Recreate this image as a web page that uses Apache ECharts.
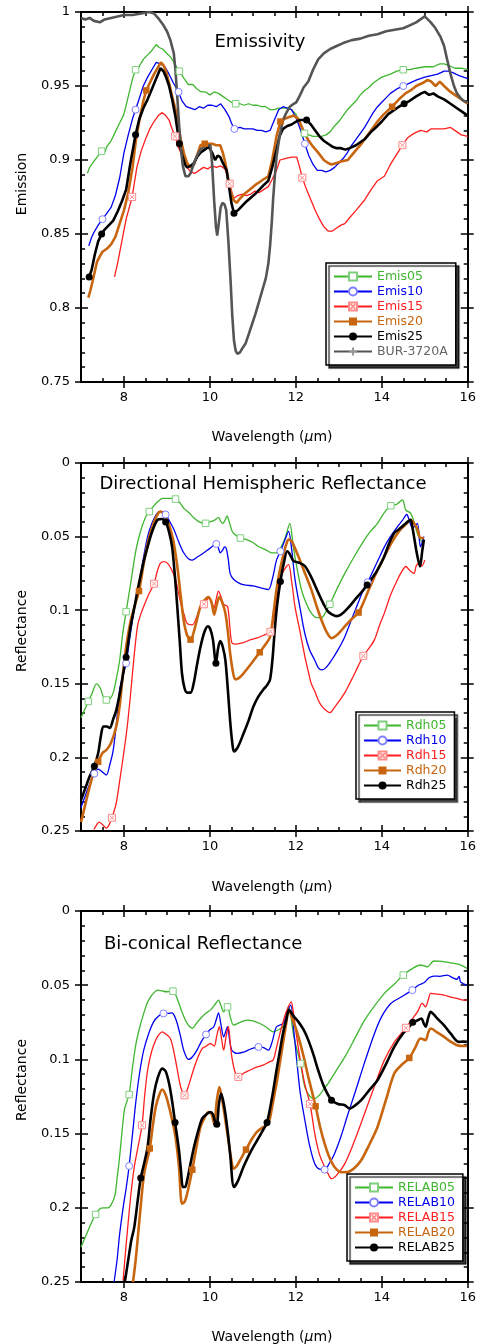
<!DOCTYPE html>
<html>
<head>
<meta charset="utf-8">
<script src="https://cdn.jsdelivr.net/npm/echarts@6/dist/echarts.min.js"></script>
<style>
  html, body { margin: 0; padding: 0; background: #fff; }
  #chart { width: 479px; height: 1344px; }
</style>
</head>
<body>
<div id="chart"></div>
<script>
// ---- Wavelength ticks (micrometres) ----
const wavelengthTicks = [8, 10, 12, 14, 16];

// ---- Emissivity spectra: [wavelength, emission] ----
const emis05 = [[7.15,0.891],[7.2,0.895],[7.3,0.899],[7.4,0.903],[7.48,0.906],[7.55,0.905],[7.6,0.909],[7.7,0.913],[7.8,0.919],[7.9,0.925],[8.0,0.931],[8.1,0.943],[8.2,0.955],[8.27,0.961],[8.35,0.963],[8.45,0.968],[8.55,0.971],[8.65,0.974],[8.75,0.978],[8.82,0.976],[8.9,0.975],[9.0,0.972],[9.1,0.969],[9.2,0.964],[9.29,0.960],[9.4,0.955],[9.5,0.951],[9.6,0.951],[9.7,0.948],[9.8,0.946],[9.9,0.946],[10.0,0.944],[10.1,0.946],[10.2,0.945],[10.3,0.943],[10.4,0.941],[10.5,0.939],[10.6,0.938],[10.7,0.938],[10.8,0.937],[10.9,0.938],[11.0,0.937],[11.1,0.937],[11.2,0.936],[11.3,0.936],[11.4,0.934],[11.5,0.934],[11.6,0.935],[11.7,0.935],[11.8,0.935],[11.9,0.934],[12.0,0.931],[12.1,0.924],[12.2,0.918],[12.3,0.917],[12.4,0.916],[12.5,0.916],[12.6,0.916],[12.7,0.917],[12.8,0.919],[12.9,0.923],[13.0,0.926],[13.1,0.930],[13.2,0.934],[13.3,0.937],[13.4,0.940],[13.5,0.944],[13.6,0.947],[13.7,0.949],[13.8,0.952],[13.9,0.954],[14.0,0.956],[14.2,0.958],[14.35,0.960],[14.5,0.961],[14.65,0.961],[14.8,0.962],[15.0,0.963],[15.2,0.963],[15.35,0.965],[15.45,0.965],[15.55,0.964],[15.7,0.962],[15.85,0.962],[16.0,0.961]];
const emis10 = [[7.18,0.842],[7.25,0.848],[7.3,0.851],[7.4,0.856],[7.5,0.860],[7.6,0.864],[7.7,0.868],[7.8,0.876],[7.9,0.888],[8.0,0.905],[8.1,0.917],[8.2,0.928],[8.27,0.934],[8.35,0.941],[8.45,0.950],[8.55,0.956],[8.65,0.961],[8.75,0.966],[8.85,0.965],[8.95,0.963],[9.05,0.958],[9.15,0.952],[9.27,0.946],[9.35,0.940],[9.45,0.936],[9.55,0.935],[9.65,0.934],[9.75,0.936],[9.85,0.935],[9.95,0.937],[10.05,0.937],[10.15,0.936],[10.25,0.938],[10.35,0.934],[10.45,0.929],[10.5,0.925],[10.57,0.921],[10.7,0.922],[10.8,0.921],[10.9,0.921],[11.0,0.921],[11.1,0.920],[11.2,0.920],[11.3,0.919],[11.4,0.920],[11.5,0.927],[11.6,0.934],[11.7,0.936],[11.8,0.935],[11.9,0.934],[12.0,0.929],[12.1,0.921],[12.21,0.911],[12.3,0.903],[12.4,0.897],[12.5,0.893],[12.6,0.893],[12.7,0.892],[12.8,0.893],[12.9,0.895],[13.0,0.898],[13.1,0.901],[13.2,0.905],[13.3,0.910],[13.4,0.914],[13.5,0.918],[13.6,0.922],[13.7,0.927],[13.8,0.932],[13.9,0.936],[14.0,0.939],[14.1,0.942],[14.2,0.945],[14.35,0.948],[14.5,0.950],[14.65,0.952],[14.8,0.954],[15.0,0.956],[15.15,0.957],[15.3,0.958],[15.45,0.960],[15.55,0.960],[15.65,0.959],[15.8,0.957],[16.0,0.955]];
const emis15 = [[7.78,0.821],[7.85,0.830],[7.95,0.845],[8.05,0.860],[8.19,0.875],[8.3,0.895],[8.4,0.906],[8.5,0.914],[8.6,0.921],[8.7,0.926],[8.8,0.930],[8.89,0.932],[8.97,0.930],[9.05,0.927],[9.12,0.921],[9.19,0.916],[9.26,0.909],[9.32,0.905],[9.4,0.899],[9.47,0.895],[9.55,0.892],[9.65,0.891],[9.75,0.893],[9.85,0.895],[9.95,0.894],[10.05,0.896],[10.15,0.895],[10.25,0.896],[10.35,0.894],[10.46,0.884],[10.55,0.874],[10.65,0.876],[10.75,0.877],[10.85,0.876],[10.95,0.877],[11.05,0.879],[11.15,0.878],[11.25,0.880],[11.36,0.882],[11.45,0.887],[11.55,0.893],[11.63,0.900],[11.75,0.901],[11.9,0.902],[12.02,0.902],[12.08,0.896],[12.15,0.888],[12.25,0.880],[12.35,0.873],[12.45,0.866],[12.55,0.860],[12.65,0.855],[12.75,0.852],[12.85,0.852],[12.95,0.854],[13.05,0.856],[13.14,0.857],[13.25,0.861],[13.4,0.866],[13.6,0.873],[13.75,0.880],[13.9,0.886],[14.06,0.889],[14.2,0.897],[14.35,0.904],[14.48,0.910],[14.6,0.915],[14.75,0.918],[14.9,0.920],[15.05,0.919],[15.14,0.921],[15.3,0.921],[15.45,0.921],[15.6,0.922],[15.7,0.920],[15.85,0.917],[16.0,0.916]];
const emis20 = [[7.17,0.807],[7.22,0.812],[7.3,0.822],[7.37,0.831],[7.44,0.835],[7.5,0.838],[7.6,0.840],[7.7,0.843],[7.8,0.848],[7.9,0.857],[8.0,0.866],[8.1,0.878],[8.2,0.895],[8.28,0.914],[8.38,0.930],[8.46,0.941],[8.52,0.947],[8.6,0.952],[8.7,0.958],[8.8,0.963],[8.86,0.966],[8.92,0.964],[8.98,0.960],[9.05,0.952],[9.12,0.943],[9.2,0.934],[9.26,0.924],[9.32,0.914],[9.4,0.904],[9.47,0.898],[9.55,0.895],[9.63,0.897],[9.7,0.903],[9.78,0.910],[9.88,0.911],[9.97,0.911],[10.05,0.911],[10.15,0.910],[10.24,0.910],[10.3,0.905],[10.36,0.898],[10.42,0.888],[10.47,0.880],[10.55,0.873],[10.62,0.871],[10.7,0.874],[10.8,0.877],[10.93,0.880],[11.05,0.883],[11.15,0.885],[11.25,0.887],[11.36,0.889],[11.45,0.900],[11.55,0.916],[11.64,0.926],[11.75,0.928],[11.85,0.929],[11.95,0.930],[12.05,0.928],[12.13,0.923],[12.2,0.918],[12.3,0.913],[12.4,0.909],[12.52,0.905],[12.65,0.900],[12.75,0.898],[12.83,0.897],[12.95,0.898],[13.05,0.899],[13.21,0.900],[13.35,0.905],[13.5,0.910],[13.6,0.914],[13.75,0.920],[13.9,0.926],[14.05,0.931],[14.24,0.936],[14.4,0.941],[14.55,0.945],[14.67,0.947],[14.8,0.950],[14.95,0.952],[15.06,0.954],[15.15,0.953],[15.25,0.950],[15.35,0.953],[15.45,0.950],[15.6,0.946],[15.75,0.943],[15.9,0.940],[16.0,0.938]];
const emis25 = [[7.19,0.821],[7.25,0.826],[7.32,0.836],[7.4,0.845],[7.48,0.850],[7.55,0.853],[7.65,0.856],[7.75,0.859],[7.85,0.865],[7.95,0.872],[8.05,0.880],[8.15,0.898],[8.27,0.917],[8.35,0.927],[8.45,0.935],[8.55,0.941],[8.65,0.948],[8.75,0.955],[8.85,0.962],[8.92,0.960],[8.98,0.956],[9.05,0.950],[9.12,0.941],[9.2,0.929],[9.29,0.911],[9.36,0.903],[9.42,0.897],[9.47,0.895],[9.55,0.896],[9.63,0.898],[9.7,0.902],[9.78,0.905],[9.88,0.907],[9.97,0.909],[10.05,0.905],[10.12,0.900],[10.18,0.903],[10.24,0.902],[10.3,0.898],[10.39,0.893],[10.45,0.881],[10.5,0.871],[10.56,0.864],[10.65,0.866],[10.75,0.869],[10.85,0.872],[10.93,0.874],[11.05,0.877],[11.15,0.880],[11.25,0.883],[11.36,0.886],[11.45,0.895],[11.55,0.907],[11.62,0.916],[11.7,0.921],[11.8,0.923],[11.9,0.924],[12.01,0.926],[12.1,0.927],[12.25,0.927],[12.35,0.924],[12.45,0.920],[12.55,0.916],[12.65,0.913],[12.75,0.911],[12.85,0.909],[12.95,0.908],[13.05,0.908],[13.15,0.907],[13.25,0.908],[13.4,0.910],[13.5,0.912],[13.6,0.914],[13.75,0.919],[13.9,0.923],[14.0,0.926],[14.15,0.931],[14.3,0.934],[14.4,0.936],[14.52,0.938],[14.65,0.940],[14.8,0.943],[14.92,0.945],[15.0,0.946],[15.1,0.944],[15.2,0.945],[15.3,0.943],[15.45,0.941],[15.6,0.938],[15.75,0.935],[15.9,0.932],[16.0,0.930]];
const bur3720a = [[7.0,0.996],[7.1,0.995],[7.2,0.996],[7.3,0.994],[7.44,0.993],[7.55,0.995],[7.7,0.996],[7.85,0.997],[8.0,0.998],[8.2,0.998],[8.4,0.999],[8.59,1.0],[8.7,0.999],[8.82,0.995],[8.92,0.991],[9.0,0.987],[9.08,0.981],[9.16,0.972],[9.2,0.960],[9.24,0.943],[9.28,0.925],[9.32,0.909],[9.37,0.896],[9.43,0.889],[9.5,0.889],[9.55,0.891],[9.62,0.897],[9.7,0.903],[9.78,0.907],[9.86,0.909],[9.95,0.910],[10.01,0.910],[10.05,0.898],[10.1,0.872],[10.14,0.855],[10.17,0.849],[10.21,0.858],[10.25,0.868],[10.29,0.871],[10.34,0.870],[10.38,0.866],[10.43,0.845],[10.48,0.819],[10.52,0.795],[10.56,0.778],[10.6,0.771],[10.64,0.769],[10.7,0.770],[10.76,0.773],[10.83,0.776],[10.9,0.782],[10.98,0.789],[11.06,0.796],[11.15,0.805],[11.23,0.813],[11.3,0.820],[11.36,0.830],[11.4,0.842],[11.44,0.858],[11.47,0.873],[11.51,0.889],[11.55,0.902],[11.62,0.916],[11.7,0.927],[11.78,0.932],[11.86,0.936],[11.95,0.938],[12.01,0.939],[12.1,0.944],[12.18,0.949],[12.29,0.953],[12.4,0.961],[12.52,0.968],[12.65,0.972],[12.8,0.975],[12.95,0.977],[13.1,0.979],[13.3,0.981],[13.5,0.982],[13.7,0.984],[13.9,0.985],[14.1,0.987],[14.3,0.988],[14.5,0.989],[14.65,0.991],[14.8,0.993],[14.9,0.995],[15.0,0.997],[15.07,0.995],[15.14,0.993],[15.25,0.989],[15.37,0.983],[15.45,0.977],[15.52,0.968],[15.6,0.958],[15.68,0.950],[15.75,0.945],[15.83,0.942],[15.9,0.940],[16.0,0.939]];

// ---- Directional hemispheric reflectance: [wavelength, reflectance] ----
const rdh05 = [[7.0,0.173],[7.08,0.168],[7.17,0.162],[7.25,0.157],[7.36,0.150],[7.45,0.153],[7.52,0.159],[7.59,0.161],[7.68,0.160],[7.75,0.156],[7.82,0.147],[7.9,0.134],[7.97,0.116],[8.05,0.101],[8.15,0.083],[8.28,0.059],[8.4,0.045],[8.5,0.037],[8.59,0.033],[8.7,0.029],[8.8,0.026],[8.9,0.024],[9.0,0.024],[9.1,0.024],[9.2,0.0245],[9.3,0.027],[9.4,0.031],[9.52,0.034],[9.62,0.037],[9.75,0.040],[9.9,0.041],[10.0,0.040],[10.1,0.039],[10.2,0.037],[10.26,0.040],[10.3,0.041],[10.35,0.039],[10.4,0.036],[10.45,0.040],[10.52,0.0465],[10.6,0.049],[10.71,0.051],[10.85,0.052],[11.0,0.054],[11.13,0.0567],[11.3,0.059],[11.44,0.061],[11.55,0.061],[11.67,0.0563],[11.76,0.050],[11.86,0.041],[11.94,0.057],[12.03,0.072],[12.13,0.086],[12.25,0.096],[12.36,0.102],[12.48,0.105],[12.6,0.105],[12.7,0.101],[12.79,0.096],[12.95,0.086],[13.14,0.075],[13.35,0.064],[13.6,0.052],[13.75,0.046],[13.9,0.041],[14.05,0.034],[14.21,0.029],[14.35,0.028],[14.48,0.025],[14.56,0.032],[14.67,0.034],[14.75,0.040],[14.83,0.048],[14.9,0.052],[14.95,0.054]];
const rdh10 = [[7.0,0.234],[7.1,0.226],[7.2,0.218],[7.31,0.211],[7.4,0.208],[7.5,0.210],[7.59,0.212],[7.67,0.205],[7.75,0.195],[7.82,0.178],[7.9,0.154],[7.97,0.145],[8.05,0.136],[8.15,0.116],[8.25,0.097],[8.32,0.088],[8.45,0.065],[8.55,0.050],[8.65,0.041],[8.75,0.035],[8.82,0.033],[8.9,0.033],[8.97,0.035],[9.05,0.039],[9.16,0.045],[9.28,0.054],[9.39,0.061],[9.5,0.065],[9.59,0.066],[9.7,0.064],[9.86,0.061],[10.0,0.058],[10.15,0.055],[10.2,0.058],[10.24,0.061],[10.3,0.059],[10.34,0.057],[10.38,0.058],[10.43,0.066],[10.47,0.075],[10.55,0.079],[10.7,0.082],[10.85,0.083],[11.01,0.0835],[11.2,0.085],[11.36,0.086],[11.46,0.078],[11.55,0.066],[11.64,0.060],[11.75,0.052],[11.83,0.0465],[11.9,0.058],[11.98,0.079],[12.1,0.099],[12.21,0.116],[12.32,0.127],[12.44,0.134],[12.52,0.139],[12.6,0.1406],[12.7,0.139],[12.83,0.134],[12.98,0.127],[13.14,0.118],[13.3,0.106],[13.45,0.095],[13.6,0.084],[13.67,0.081],[13.8,0.073],[13.93,0.065],[14.06,0.057],[14.2,0.050],[14.37,0.043],[14.48,0.039],[14.58,0.035],[14.65,0.040],[14.71,0.044],[14.77,0.043],[14.83,0.041],[14.9,0.057],[14.95,0.053],[14.98,0.050]];
const rdh15 = [[7.3,0.249],[7.36,0.246],[7.42,0.244],[7.48,0.245],[7.54,0.247],[7.59,0.248],[7.65,0.246],[7.72,0.241],[7.82,0.231],[7.9,0.216],[8.0,0.196],[8.08,0.178],[8.16,0.155],[8.24,0.130],[8.32,0.110],[8.4,0.102],[8.46,0.0975],[8.58,0.089],[8.7,0.082],[8.78,0.073],[8.85,0.068],[8.93,0.067],[9.01,0.068],[9.1,0.072],[9.2,0.079],[9.26,0.087],[9.32,0.095],[9.4,0.103],[9.47,0.109],[9.59,0.110],[9.7,0.104],[9.78,0.0975],[9.86,0.096],[9.97,0.092],[10.04,0.094],[10.09,0.099],[10.15,0.092],[10.2,0.087],[10.26,0.091],[10.32,0.096],[10.41,0.0975],[10.46,0.110],[10.51,0.122],[10.6,0.123],[10.78,0.122],[10.95,0.120],[11.09,0.119],[11.25,0.117],[11.41,0.1146],[11.51,0.102],[11.57,0.090],[11.63,0.079],[11.72,0.073],[11.83,0.069],[11.9,0.080],[11.98,0.0975],[12.1,0.115],[12.21,0.1315],[12.3,0.143],[12.36,0.150],[12.44,0.155],[12.52,0.161],[12.6,0.165],[12.7,0.168],[12.79,0.1696],[12.9,0.166],[13.0,0.162],[13.14,0.156],[13.3,0.147],[13.45,0.138],[13.57,0.131],[13.7,0.126],[13.83,0.120],[13.95,0.110],[14.06,0.102],[14.2,0.090],[14.37,0.079],[14.46,0.074],[14.56,0.0703],[14.65,0.073],[14.75,0.075],[14.8,0.070],[14.86,0.068],[14.93,0.070],[15.0,0.066]];
const rdh20 = [[7.0,0.244],[7.1,0.232],[7.2,0.220],[7.3,0.210],[7.4,0.203],[7.5,0.197],[7.59,0.195],[7.7,0.190],[7.82,0.179],[7.9,0.165],[7.97,0.145],[8.05,0.125],[8.15,0.108],[8.25,0.097],[8.35,0.087],[8.45,0.070],[8.52,0.059],[8.59,0.050],[8.7,0.040],[8.8,0.034],[8.86,0.033],[8.95,0.036],[9.05,0.042],[9.15,0.053],[9.24,0.070],[9.32,0.090],[9.39,0.107],[9.47,0.117],[9.55,0.120],[9.65,0.112],[9.78,0.0975],[9.88,0.093],[9.97,0.091],[10.04,0.095],[10.1,0.103],[10.16,0.096],[10.22,0.091],[10.29,0.095],[10.36,0.102],[10.42,0.115],[10.47,0.129],[10.53,0.141],[10.59,0.147],[10.68,0.146],[10.78,0.143],[10.97,0.136],[11.16,0.1286],[11.3,0.123],[11.4,0.118],[11.48,0.102],[11.55,0.086],[11.62,0.074],[11.7,0.0635],[11.78,0.055],[11.83,0.052],[11.9,0.053],[11.98,0.058],[12.06,0.0635],[12.2,0.074],[12.36,0.086],[12.48,0.097],[12.6,0.107],[12.72,0.115],[12.83,0.119],[12.95,0.117],[13.05,0.114],[13.14,0.111],[13.3,0.106],[13.46,0.1016],[13.57,0.095],[13.67,0.088],[13.85,0.076],[14.06,0.0635],[14.25,0.053],[14.44,0.045],[14.55,0.042],[14.67,0.0386],[14.75,0.041],[14.83,0.045],[14.9,0.051],[14.98,0.051]];
const rdh25 = [[7.0,0.229],[7.1,0.221],[7.2,0.213],[7.31,0.206],[7.4,0.197],[7.46,0.186],[7.52,0.179],[7.6,0.179],[7.67,0.180],[7.75,0.174],[7.82,0.168],[7.9,0.157],[7.97,0.145],[8.05,0.132],[8.15,0.112],[8.25,0.097],[8.32,0.086],[8.45,0.068],[8.55,0.057],[8.65,0.047],[8.78,0.0386],[8.88,0.038],[8.97,0.040],[9.05,0.047],[9.12,0.057],[9.18,0.075],[9.24,0.0975],[9.3,0.122],[9.35,0.143],[9.41,0.153],[9.47,0.156],[9.55,0.156],[9.62,0.150],[9.7,0.137],[9.78,0.125],[9.87,0.115],[9.95,0.111],[10.01,0.113],[10.07,0.120],[10.14,0.136],[10.19,0.126],[10.24,0.121],[10.3,0.125],[10.36,0.134],[10.42,0.155],[10.47,0.175],[10.52,0.190],[10.56,0.196],[10.65,0.193],[10.78,0.184],[10.9,0.175],[11.01,0.1656],[11.12,0.159],[11.24,0.154],[11.33,0.151],[11.4,0.147],[11.46,0.132],[11.51,0.113],[11.57,0.095],[11.64,0.0805],[11.72,0.068],[11.8,0.060],[11.86,0.062],[11.93,0.066],[11.98,0.067],[12.1,0.068],[12.21,0.070],[12.35,0.077],[12.52,0.088],[12.65,0.096],[12.75,0.101],[12.85,0.103],[12.94,0.104],[13.05,0.103],[13.21,0.0986],[13.4,0.092],[13.55,0.087],[13.66,0.0828],[13.78,0.078],[13.9,0.0726],[14.05,0.064],[14.18,0.054],[14.29,0.0476],[14.4,0.045],[14.52,0.042],[14.6,0.040],[14.67,0.0386],[14.72,0.045],[14.75,0.050],[14.82,0.062],[14.89,0.0703],[14.94,0.060],[14.98,0.052]];

// ---- Bi-conical (RELAB) reflectance: [wavelength, reflectance] ----
const relab05 = [[7.0,0.2265],[7.08,0.221],[7.17,0.215],[7.26,0.209],[7.34,0.2045],[7.44,0.2006],[7.52,0.200],[7.63,0.200],[7.7,0.198],[7.79,0.1916],[7.84,0.180],[7.89,0.168],[7.95,0.150],[8.01,0.134],[8.07,0.128],[8.12,0.1237],[8.2,0.105],[8.28,0.0893],[8.37,0.078],[8.46,0.069],[8.54,0.062],[8.62,0.0578],[8.7,0.055],[8.78,0.0533],[8.9,0.054],[9.01,0.0544],[9.14,0.054],[9.21,0.057],[9.28,0.0623],[9.35,0.068],[9.43,0.0735],[9.5,0.077],[9.59,0.079],[9.68,0.076],[9.78,0.0724],[9.9,0.069],[10.01,0.0668],[10.12,0.063],[10.2,0.060],[10.26,0.064],[10.32,0.068],[10.36,0.066],[10.41,0.0646],[10.48,0.072],[10.55,0.0769],[10.7,0.075],[10.86,0.0735],[11.0,0.074],[11.16,0.0758],[11.3,0.078],[11.47,0.0814],[11.6,0.080],[11.7,0.078],[11.78,0.073],[11.83,0.0646],[11.88,0.070],[11.94,0.0825],[12.02,0.093],[12.11,0.1028],[12.21,0.1186],[12.33,0.125],[12.44,0.1264],[12.55,0.124],[12.65,0.120],[12.75,0.1163],[12.95,0.107],[13.14,0.0983],[13.37,0.086],[13.6,0.0735],[13.83,0.064],[14.06,0.0555],[14.3,0.049],[14.5,0.0432],[14.7,0.039],[14.9,0.0364],[15.06,0.0376],[15.21,0.0337],[15.4,0.034],[15.6,0.0349],[15.8,0.036],[15.98,0.0387]];
const relab10 = [[7.77,0.25],[7.84,0.235],[7.9,0.2175],[7.98,0.200],[8.05,0.187],[8.12,0.1718],[8.2,0.150],[8.28,0.1275],[8.37,0.108],[8.46,0.0938],[8.57,0.083],[8.69,0.0747],[8.8,0.071],[8.92,0.069],[9.02,0.069],[9.12,0.0686],[9.18,0.071],[9.24,0.0758],[9.32,0.085],[9.39,0.0938],[9.5,0.100],[9.6,0.098],[9.7,0.0938],[9.8,0.088],[9.91,0.0832],[10.0,0.080],[10.09,0.078],[10.15,0.073],[10.2,0.0686],[10.26,0.077],[10.32,0.0848],[10.37,0.081],[10.41,0.078],[10.46,0.087],[10.51,0.0938],[10.63,0.096],[10.8,0.095],[10.95,0.093],[11.13,0.0916],[11.25,0.092],[11.36,0.0938],[11.45,0.088],[11.55,0.078],[11.7,0.0758],[11.8,0.068],[11.88,0.0634],[11.95,0.080],[12.02,0.1005],[12.1,0.122],[12.21,0.141],[12.32,0.158],[12.44,0.1703],[12.55,0.174],[12.67,0.1743],[12.78,0.170],[12.9,0.1635],[13.05,0.152],[13.2,0.138],[13.37,0.123],[13.6,0.102],[13.83,0.0825],[14.0,0.071],[14.21,0.0623],[14.45,0.058],[14.71,0.0533],[14.85,0.050],[14.98,0.0484],[15.1,0.045],[15.21,0.0439],[15.35,0.044],[15.52,0.0432],[15.65,0.045],[15.75,0.046],[15.8,0.044],[15.83,0.0477],[15.9,0.049],[15.98,0.050]];
const relab15 = [[7.98,0.249],[8.05,0.225],[8.13,0.200],[8.18,0.186],[8.24,0.1725],[8.32,0.160],[8.42,0.1444],[8.48,0.125],[8.55,0.1073],[8.64,0.095],[8.74,0.087],[8.82,0.083],[8.89,0.0814],[8.98,0.083],[9.08,0.0859],[9.14,0.092],[9.2,0.1005],[9.26,0.110],[9.32,0.1186],[9.41,0.1242],[9.5,0.118],[9.59,0.1095],[9.7,0.100],[9.82,0.0927],[9.92,0.091],[10.01,0.0893],[10.1,0.091],[10.16,0.084],[10.22,0.078],[10.27,0.086],[10.32,0.0938],[10.38,0.084],[10.43,0.078],[10.47,0.088],[10.51,0.0983],[10.58,0.108],[10.66,0.1118],[10.8,0.109],[10.93,0.1073],[11.1,0.105],[11.24,0.1039],[11.36,0.102],[11.47,0.1005],[11.55,0.092],[11.63,0.0825],[11.72,0.073],[11.79,0.0668],[11.89,0.0612],[11.95,0.070],[12.02,0.0848],[12.1,0.100],[12.21,0.117],[12.33,0.130],[12.44,0.150],[12.55,0.164],[12.67,0.1725],[12.75,0.177],[12.83,0.1804],[12.95,0.178],[13.14,0.1702],[13.35,0.156],[13.6,0.1365],[13.83,0.118],[14.06,0.1005],[14.3,0.088],[14.56,0.0787],[14.7,0.073],[14.83,0.068],[14.94,0.0623],[15.02,0.0646],[15.08,0.060],[15.14,0.0555],[15.3,0.056],[15.45,0.0567],[15.6,0.058],[15.75,0.0589],[15.9,0.060],[15.98,0.060]];
const relab20 = [[8.21,0.25],[8.28,0.233],[8.37,0.205],[8.47,0.177],[8.6,0.160],[8.67,0.145],[8.74,0.132],[8.82,0.124],[8.89,0.1203],[8.97,0.124],[9.05,0.132],[9.13,0.142],[9.2,0.1523],[9.28,0.1725],[9.35,0.1972],[9.41,0.196],[9.47,0.1905],[9.59,0.1743],[9.68,0.160],[9.78,0.1455],[9.88,0.139],[9.97,0.1354],[10.04,0.137],[10.1,0.1433],[10.16,0.128],[10.22,0.1186],[10.29,0.128],[10.36,0.141],[10.43,0.1545],[10.5,0.168],[10.55,0.1737],[10.62,0.172],[10.7,0.168],[10.84,0.1608],[10.97,0.154],[11.09,0.149],[11.22,0.146],[11.36,0.1433],[11.46,0.130],[11.55,0.1163],[11.63,0.102],[11.7,0.0893],[11.78,0.075],[11.83,0.0668],[11.95,0.075],[12.06,0.0848],[12.18,0.098],[12.29,0.1118],[12.46,0.1316],[12.56,0.145],[12.67,0.1568],[12.78,0.166],[12.9,0.1725],[13.05,0.176],[13.21,0.1759],[13.37,0.173],[13.52,0.168],[13.7,0.158],[13.9,0.1455],[14.1,0.127],[14.29,0.1095],[14.45,0.104],[14.64,0.099],[14.78,0.092],[14.9,0.0859],[15.02,0.087],[15.08,0.082],[15.14,0.0792],[15.3,0.082],[15.45,0.0848],[15.6,0.088],[15.75,0.0904],[15.9,0.091],[15.98,0.091]];
const relab25 = [[8.02,0.25],[8.1,0.235],[8.17,0.222],[8.24,0.213],[8.32,0.195],[8.39,0.180],[8.47,0.170],[8.55,0.159],[8.62,0.140],[8.7,0.123],[8.79,0.112],[8.89,0.1062],[8.97,0.108],[9.05,0.1163],[9.12,0.128],[9.19,0.1426],[9.28,0.1613],[9.33,0.176],[9.37,0.186],[9.42,0.186],[9.47,0.1815],[9.55,0.170],[9.63,0.159],[9.72,0.149],[9.82,0.1399],[9.92,0.137],[10.01,0.1354],[10.07,0.137],[10.12,0.142],[10.16,0.1437],[10.21,0.130],[10.26,0.123],[10.31,0.128],[10.36,0.1365],[10.42,0.150],[10.47,0.1635],[10.56,0.186],[10.65,0.182],[10.78,0.1725],[10.9,0.165],[11.01,0.159],[11.15,0.152],[11.25,0.147],[11.33,0.1426],[11.45,0.125],[11.55,0.1073],[11.63,0.094],[11.7,0.0825],[11.78,0.073],[11.84,0.0668],[11.95,0.071],[12.06,0.0747],[12.18,0.080],[12.29,0.087],[12.4,0.096],[12.52,0.1073],[12.65,0.118],[12.83,0.1275],[12.98,0.130],[13.14,0.1309],[13.25,0.1331],[13.38,0.131],[13.52,0.1275],[13.7,0.121],[13.9,0.114],[14.1,0.103],[14.29,0.0916],[14.48,0.083],[14.67,0.0769],[14.72,0.075],[14.81,0.074],[14.92,0.0724],[14.98,0.076],[15.02,0.078],[15.08,0.072],[15.14,0.068],[15.22,0.070],[15.29,0.0724],[15.45,0.077],[15.6,0.0825],[15.79,0.0882],[15.9,0.088],[15.98,0.0882]];

// ---- Wavelengths that carry a marker on each curve ----
const emis05Marks = [7.48, 8.27, 9.29, 10.6, 12.2, 14.5];
const emis10Marks = [7.5, 8.27, 9.27, 10.57, 12.21, 14.5];
const emis15Marks = [8.19, 9.19, 10.46, 12.15, 14.48];
const emis20Marks = [8.52, 9.88, 11.64, 14.24];
const emis25Marks = [7.19, 7.48, 8.27, 9.29, 10.56, 12.25, 14.52];
const burMarks = [];
const rdh05Marks = [7.17, 7.59, 8.05, 8.59, 9.2, 9.9, 10.71, 12.79, 14.21];
const rdh10Marks = [7.31, 8.05, 8.97, 10.15, 11.64, 13.67];
const rdh15Marks = [7.72, 8.7, 9.86, 11.41, 13.57];
const rdh20Marks = [7.4, 8.35, 9.55, 11.16, 13.46];
const rdh25Marks = [7.31, 8.05, 8.97, 10.14, 11.64, 13.66];
const relab05Marks = [7.34, 8.12, 9.14, 10.41, 12.11, 14.5];
const relab10Marks = [8.12, 8.92, 9.91, 11.13, 12.67, 14.71];
const relab15Marks = [8.42, 9.41, 10.66, 12.33, 14.56];
const relab20Marks = [8.6, 9.59, 10.84, 12.46, 14.64];
const relab25Marks = [8.39, 9.19, 10.16, 11.33, 12.83, 14.72];

// ---- Drawing ----
const FONT = 'DejaVu Sans';
const GREEN = '#3fb62f', BLUE = '#0000ee', RED = '#ff1e1e', ORANGE = '#c8650f', BLACK = '#000000', GRAY = '#555555';
const XSYM = 'path://M0,0H10V10H0Z M2,2L8,8 M8,2L2,8';
const PLUS = 'path://M5,0V10 M0,5H10';

const kinds = {
  k05: { color: GREEN, width: 1.3, symbol: 'rect', size: 6.5, item: { color: '#fff', borderColor: '#7fcf7f', borderWidth: 1 } },
  k10: { color: BLUE, width: 1.3, symbol: 'circle', size: 7, item: { color: '#fff', borderColor: '#8080ff', borderWidth: 1 } },
  k15: { color: RED, width: 1.3, symbol: XSYM, size: 7, item: { color: '#fff', borderColor: '#ff8a8a', borderWidth: 1 } },
  k20: { color: ORANGE, width: 2.6, symbol: 'rect', size: 6.5, item: { color: ORANGE, borderWidth: 0 } },
  k25: { color: BLACK, width: 2.6, symbol: 'circle', size: 7, item: { color: BLACK, borderWidth: 0 } },
  kbur: { color: GRAY, width: 2.6, symbol: PLUS, size: 8, item: { color: GRAY, borderColor: '#999', borderWidth: 1 } }
};

function lineSeries(name, pts, marks, kind, panel, smooth) {
  const k = kinds[kind];
  return {
    name, type: 'line',
    xAxisIndex: panel * 4, yAxisIndex: panel * 4,
    data: pts.map(p => marks.indexOf(p[0]) >= 0 ? { value: p } : { value: p, symbol: 'none' }),
    symbol: k.symbol, symbolSize: k.size, showSymbol: true, showAllSymbol: true,
    smooth: smooth ? 0.3 : false,
    lineStyle: { color: k.color, width: k.width },
    itemStyle: k.item,
    emphasis: { disabled: true },
    clip: true,
    animation: false
  };
}

const panels = [
  { top: 12, height: 370, min: 0.75, max: 1, inverse: false },
  { top: 463, height: 368, min: 0, max: 0.25, inverse: true },
  { top: 911, height: 371, min: 0, max: 0.25, inverse: true }
];

const grids = [], xAxes = [], yAxes = [];
const tickLine = { color: '#000', width: 1.5 };
panels.forEach((p, i) => {
  grids.push({ left: 81, width: 390, top: p.top, height: p.height });
  const xBase = { gridIndex: i, type: 'value', min: 7, max: 16, splitLine: { show: false } };
  // bottom: half-micron ticks with labels on even wavelengths
  xAxes.push(Object.assign({}, xBase, {
    position: 'bottom', interval: 0.5,
    axisLine: { show: true, onZero: false, lineStyle: { color: '#000', width: 2 } },
    axisTick: { show: true, inside: true, length: 4, lineStyle: tickLine },
    axisLabel: { show: true, margin: 9, color: '#000', fontFamily: FONT, fontSize: 13,
      formatter: v => (Math.abs(v % 2) < 1e-9 ? String(v) : '') }
  }));
  // bottom: long major ticks crossing the frame
  xAxes.push(Object.assign({}, xBase, {
    position: 'bottom', offset: 6,
    axisLine: { show: false, onZero: false },
    axisTick: { show: true, inside: true, length: 12, lineStyle: tickLine, customValues: wavelengthTicks },
    axisLabel: { show: false }
  }));
  // top frame
  xAxes.push(Object.assign({}, xBase, {
    position: 'top', interval: 0.5,
    axisLine: { show: true, onZero: false, lineStyle: { color: '#000', width: 2 } },
    axisTick: { show: true, inside: true, length: 4, lineStyle: tickLine },
    axisLabel: { show: false }
  }));
  xAxes.push(Object.assign({}, xBase, {
    position: 'top', offset: 6,
    axisLine: { show: false, onZero: false },
    axisTick: { show: true, inside: true, length: 12, lineStyle: tickLine, customValues: wavelengthTicks },
    axisLabel: { show: false }
  }));

  const yBase = { gridIndex: i, type: 'value', min: p.min, max: p.max, interval: 0.05, inverse: p.inverse, splitLine: { show: false } };
  yAxes.push(Object.assign({}, yBase, {
    position: 'left',
    axisLine: { show: true, onZero: false, lineStyle: { color: '#000', width: 2 } },
    axisTick: { show: true, inside: true, length: 4, lineStyle: tickLine },
    minorTick: { show: true, splitNumber: 5, length: 4, lineStyle: tickLine },
    axisLabel: { show: true, margin: 11, color: '#000', fontFamily: FONT, fontSize: 13 }
  }));
  yAxes.push(Object.assign({}, yBase, {
    position: 'left', offset: 6,
    axisLine: { show: false, onZero: false },
    axisTick: { show: true, inside: true, length: 13, lineStyle: tickLine },
    axisLabel: { show: false }
  }));
  yAxes.push(Object.assign({}, yBase, {
    position: 'right',
    axisLine: { show: true, onZero: false, lineStyle: { color: '#000', width: 2 } },
    axisTick: { show: true, inside: true, length: 4, lineStyle: tickLine },
    minorTick: { show: true, splitNumber: 5, length: 4, lineStyle: tickLine },
    axisLabel: { show: false }
  }));
  yAxes.push(Object.assign({}, yBase, {
    position: 'right', offset: 6,
    axisLine: { show: false, onZero: false },
    axisTick: { show: true, inside: true, length: 13, lineStyle: tickLine },
    axisLabel: { show: false }
  }));
});

const series = [
  lineSeries('Emis05', emis05, emis05Marks, 'k05', 0, false),
  lineSeries('Emis10', emis10, emis10Marks, 'k10', 0, false),
  lineSeries('Emis15', emis15, emis15Marks, 'k15', 0, false),
  lineSeries('Emis20', emis20, emis20Marks, 'k20', 0, false),
  lineSeries('Emis25', emis25, emis25Marks, 'k25', 0, false),
  lineSeries('BUR-3720A', bur3720a, burMarks, 'kbur', 0, false),
  lineSeries('Rdh05', rdh05, rdh05Marks, 'k05', 1, true),
  lineSeries('Rdh10', rdh10, rdh10Marks, 'k10', 1, true),
  lineSeries('Rdh15', rdh15, rdh15Marks, 'k15', 1, true),
  lineSeries('Rdh20', rdh20, rdh20Marks, 'k20', 1, true),
  lineSeries('Rdh25', rdh25, rdh25Marks, 'k25', 1, true),
  lineSeries('RELAB05', relab05, relab05Marks, 'k05', 2, true),
  lineSeries('RELAB10', relab10, relab10Marks, 'k10', 2, true),
  lineSeries('RELAB15', relab15, relab15Marks, 'k15', 2, true),
  lineSeries('RELAB20', relab20, relab20Marks, 'k20', 2, true),
  lineSeries('RELAB25', relab25, relab25Marks, 'k25', 2, true)
];

function legendBox(left, top, width, entries) {
  return {
    left, top, orient: 'vertical', selectedMode: false,
    padding: [6, 8, 6, 7], itemGap: 0, itemWidth: width, itemHeight: 10,
    backgroundColor: '#fff', borderColor: '#000', borderWidth: 1.5, borderRadius: 0,
    shadowColor: 'rgba(0,0,0,0.75)', shadowBlur: 1, shadowOffsetX: 3, shadowOffsetY: 3,
    textStyle: { fontFamily: FONT, fontSize: 12.5, lineHeight: 15 },
    data: entries.map(e => ({ name: e[0], textStyle: { color: e[1] } }))
  };
}

const legends = [
  legendBox(326, 263, 38, [['Emis05', GREEN], ['Emis10', BLUE], ['Emis15', RED], ['Emis20', ORANGE], ['Emis25', BLACK], ['BUR-3720A', '#666']]),
  legendBox(356, 712, 37, [['Rdh05', GREEN], ['Rdh10', BLUE], ['Rdh15', RED], ['Rdh20', ORANGE], ['Rdh25', BLACK]]),
  legendBox(347, 1174, 38, [['RELAB05', GREEN], ['RELAB10', BLUE], ['RELAB15', RED], ['RELAB20', ORANGE], ['RELAB25', BLACK]])
];

function txt(x, y, text, size, align, rot) {
  return {
    type: 'text', x, y, rotation: rot || 0, silent: true,
    style: { text, fontFamily: FONT, fontSize: size, fill: '#000', align, verticalAlign: 'middle',
      rich: { i: { fontStyle: 'italic', fontFamily: FONT, fontSize: size, fill: '#000' } } }
  };
}

const graphics = [
  txt(260, 42, 'Emissivity', 18, 'center'),
  txt(263, 484, 'Directional Hemispheric Reflectance', 18, 'center'),
  txt(104, 944, 'Bi-conical Reflectance', 18, 'left'),
  txt(22, 184, 'Emission', 14, 'center', Math.PI / 2),
  txt(22, 631, 'Reflectance', 14, 'center', Math.PI / 2),
  txt(22, 1080, 'Reflectance', 14, 'center', Math.PI / 2),
  txt(272, 437, 'Wavelength ({i|μ}m)', 14, 'center'),
  txt(272, 887, 'Wavelength ({i|μ}m)', 14, 'center'),
  txt(272, 1337, 'Wavelength ({i|μ}m)', 14, 'center')
];

const chart = echarts.init(document.getElementById('chart'), null, { renderer: 'canvas' });
chart.setOption({
  backgroundColor: '#fff',
  animation: false,
  grid: grids,
  xAxis: xAxes,
  yAxis: yAxes,
  legend: legends,
  series,
  graphic: graphics
});
</script>
</body>
</html>
